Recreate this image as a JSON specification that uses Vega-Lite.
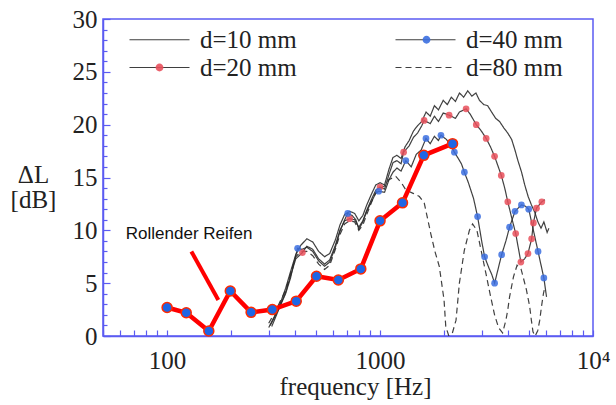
{
  "$schema": "https://vega.github.io/schema/vega-lite/v6.json",
  "width": 490,
  "height": 317,
  "autosize": {"type": "none"},
  "padding": {"left": 103, "top": 19, "right": 23, "bottom": 69},
  "background": "white",
  "config": {
    "view": {"stroke": "#5b5bf2", "strokeWidth": 1.5},
    "axis": {
      "domainColor": "#5b5bf2", "domainWidth": 1.5, "tickColor": "#5b5bf2", "tickWidth": 1.2,
      "labelFont": "Liberation Serif", "labelFontSize": 25, "labelColor": "#222",
      "titleFont": "Liberation Serif", "titleFontSize": 25, "titleFontWeight": "normal", "titleColor": "#222",
      "grid": false
    }
  },
  "resolve": {"axis": {"y": "independent"}},
  "datasets": {
    "curves": [
      {"s":"d=10 mm","f":300,"dB":0.8},{"s":"d=10 mm","f":318,"dB":1.8},{"s":"d=10 mm","f":340,"dB":3.1},{"s":"d=10 mm","f":360,"dB":4.5},{"s":"d=10 mm","f":380,"dB":6.1},{"s":"d=10 mm","f":402,"dB":7.7},{"s":"d=10 mm","f":425,"dB":8.6},{"s":"d=10 mm","f":453,"dB":9.2},{"s":"d=10 mm","f":483,"dB":8.9},{"s":"d=10 mm","f":515,"dB":8.0},{"s":"d=10 mm","f":549,"dB":7.5},{"s":"d=10 mm","f":580,"dB":7.8},{"s":"d=10 mm","f":617,"dB":9.1},{"s":"d=10 mm","f":648,"dB":10.5},{"s":"d=10 mm","f":682,"dB":11.5},{"s":"d=10 mm","f":720,"dB":11.8},{"s":"d=10 mm","f":760,"dB":11.6},{"s":"d=10 mm","f":795,"dB":10.9},{"s":"d=10 mm","f":830,"dB":11.4},{"s":"d=10 mm","f":866,"dB":12.4},{"s":"d=10 mm","f":910,"dB":13.4},{"s":"d=10 mm","f":955,"dB":14.3},{"s":"d=10 mm","f":1000,"dB":14.5},{"s":"d=10 mm","f":1050,"dB":14.3},{"s":"d=10 mm","f":1102,"dB":15.8},{"s":"d=10 mm","f":1150,"dB":16.9},{"s":"d=10 mm","f":1200,"dB":17.1},{"s":"d=10 mm","f":1255,"dB":16.8},{"s":"d=10 mm","f":1310,"dB":17.9},{"s":"d=10 mm","f":1370,"dB":18.5},{"s":"d=10 mm","f":1435,"dB":19.4},{"s":"d=10 mm","f":1500,"dB":19.9},{"s":"d=10 mm","f":1570,"dB":20.3},{"s":"d=10 mm","f":1645,"dB":21.2},{"s":"d=10 mm","f":1720,"dB":20.8},{"s":"d=10 mm","f":1800,"dB":21.8},{"s":"d=10 mm","f":1880,"dB":21.4},{"s":"d=10 mm","f":1980,"dB":22.3},{"s":"d=10 mm","f":2070,"dB":21.9},{"s":"d=10 mm","f":2160,"dB":22.6},{"s":"d=10 mm","f":2260,"dB":22.2},{"s":"d=10 mm","f":2360,"dB":23.0},{"s":"d=10 mm","f":2470,"dB":22.6},{"s":"d=10 mm","f":2580,"dB":23.2},{"s":"d=10 mm","f":2700,"dB":22.7},{"s":"d=10 mm","f":2820,"dB":23.0},{"s":"d=10 mm","f":2930,"dB":22.3},{"s":"d=10 mm","f":3070,"dB":21.9},{"s":"d=10 mm","f":3200,"dB":21.8},{"s":"d=10 mm","f":3340,"dB":21.2},{"s":"d=10 mm","f":3490,"dB":20.6},{"s":"d=10 mm","f":3640,"dB":20.3},{"s":"d=10 mm","f":3810,"dB":19.7},{"s":"d=10 mm","f":3980,"dB":19.2},{"s":"d=10 mm","f":4150,"dB":18.6},{"s":"d=10 mm","f":4300,"dB":17.6},{"s":"d=10 mm","f":4440,"dB":16.6},{"s":"d=10 mm","f":4620,"dB":15.5},{"s":"d=10 mm","f":4780,"dB":14.3},{"s":"d=10 mm","f":4960,"dB":13.2},{"s":"d=10 mm","f":5140,"dB":12.4},{"s":"d=10 mm","f":5330,"dB":11.7},{"s":"d=10 mm","f":5510,"dB":10.8},{"s":"d=10 mm","f":5700,"dB":10.2},{"s":"d=10 mm","f":5880,"dB":10.8},{"s":"d=10 mm","f":6090,"dB":9.8},{"s":"d=10 mm","f":6210,"dB":10.2},
      {"s":"d=20 mm","f":305,"dB":1.0},{"s":"d=20 mm","f":320,"dB":1.8},{"s":"d=20 mm","f":340,"dB":2.9},{"s":"d=20 mm","f":360,"dB":4.1},{"s":"d=20 mm","f":380,"dB":5.7},{"s":"d=20 mm","f":402,"dB":7.3},{"s":"d=20 mm","f":432,"dB":7.9},{"s":"d=20 mm","f":453,"dB":8.5},{"s":"d=20 mm","f":483,"dB":8.2},{"s":"d=20 mm","f":515,"dB":7.3},{"s":"d=20 mm","f":549,"dB":6.8},{"s":"d=20 mm","f":580,"dB":7.2},{"s":"d=20 mm","f":617,"dB":8.6},{"s":"d=20 mm","f":648,"dB":10.0},{"s":"d=20 mm","f":682,"dB":10.9},{"s":"d=20 mm","f":720,"dB":11.1},{"s":"d=20 mm","f":760,"dB":11.0},{"s":"d=20 mm","f":795,"dB":10.3},{"s":"d=20 mm","f":830,"dB":10.9},{"s":"d=20 mm","f":866,"dB":11.9},{"s":"d=20 mm","f":910,"dB":12.9},{"s":"d=20 mm","f":955,"dB":13.8},{"s":"d=20 mm","f":1000,"dB":14.1},{"s":"d=20 mm","f":1050,"dB":13.9},{"s":"d=20 mm","f":1102,"dB":15.3},{"s":"d=20 mm","f":1150,"dB":16.4},{"s":"d=20 mm","f":1200,"dB":16.6},{"s":"d=20 mm","f":1255,"dB":16.3},{"s":"d=20 mm","f":1290,"dB":17.4},{"s":"d=20 mm","f":1370,"dB":18.0},{"s":"d=20 mm","f":1435,"dB":18.8},{"s":"d=20 mm","f":1500,"dB":19.2},{"s":"d=20 mm","f":1570,"dB":19.9},{"s":"d=20 mm","f":1610,"dB":20.4},{"s":"d=20 mm","f":1720,"dB":20.1},{"s":"d=20 mm","f":1800,"dB":20.8},{"s":"d=20 mm","f":1880,"dB":20.3},{"s":"d=20 mm","f":1980,"dB":21.1},{"s":"d=20 mm","f":2110,"dB":20.9},{"s":"d=20 mm","f":2260,"dB":20.6},{"s":"d=20 mm","f":2360,"dB":21.2},{"s":"d=20 mm","f":2535,"dB":21.5},{"s":"d=20 mm","f":2650,"dB":21.0},{"s":"d=20 mm","f":2830,"dB":20.0},{"s":"d=20 mm","f":2990,"dB":19.4},{"s":"d=20 mm","f":3150,"dB":18.7},{"s":"d=20 mm","f":3300,"dB":17.9},{"s":"d=20 mm","f":3450,"dB":17.0},{"s":"d=20 mm","f":3710,"dB":15.2},{"s":"d=20 mm","f":3850,"dB":14.0},{"s":"d=20 mm","f":3980,"dB":12.7},{"s":"d=20 mm","f":4150,"dB":11.2},{"s":"d=20 mm","f":4335,"dB":9.7},{"s":"d=20 mm","f":4585,"dB":7.0},{"s":"d=20 mm","f":4770,"dB":7.3},{"s":"d=20 mm","f":4950,"dB":7.8},{"s":"d=20 mm","f":5150,"dB":9.2},{"s":"d=20 mm","f":5250,"dB":10.7},{"s":"d=20 mm","f":5430,"dB":12.1},{"s":"d=20 mm","f":5750,"dB":12.7},{"s":"d=20 mm","f":5950,"dB":12.9},
      {"s":"d=40 mm","f":310,"dB":0.9},{"s":"d=40 mm","f":325,"dB":1.9},{"s":"d=40 mm","f":342,"dB":3.0},{"s":"d=40 mm","f":360,"dB":4.0},{"s":"d=40 mm","f":380,"dB":5.5},{"s":"d=40 mm","f":395,"dB":7.0},{"s":"d=40 mm","f":410,"dB":8.3},{"s":"d=40 mm","f":430,"dB":8.2},{"s":"d=40 mm","f":453,"dB":8.4},{"s":"d=40 mm","f":483,"dB":8.0},{"s":"d=40 mm","f":515,"dB":7.1},{"s":"d=40 mm","f":549,"dB":6.6},{"s":"d=40 mm","f":580,"dB":7.0},{"s":"d=40 mm","f":617,"dB":8.4},{"s":"d=40 mm","f":648,"dB":9.9},{"s":"d=40 mm","f":682,"dB":11.0},{"s":"d=40 mm","f":705,"dB":11.6},{"s":"d=40 mm","f":740,"dB":11.4},{"s":"d=40 mm","f":770,"dB":11.0},{"s":"d=40 mm","f":795,"dB":10.1},{"s":"d=40 mm","f":830,"dB":10.8},{"s":"d=40 mm","f":866,"dB":11.8},{"s":"d=40 mm","f":910,"dB":12.7},{"s":"d=40 mm","f":955,"dB":13.5},{"s":"d=40 mm","f":985,"dB":13.7},{"s":"d=40 mm","f":1050,"dB":13.6},{"s":"d=40 mm","f":1102,"dB":14.8},{"s":"d=40 mm","f":1150,"dB":15.5},{"s":"d=40 mm","f":1200,"dB":15.9},{"s":"d=40 mm","f":1255,"dB":15.6},{"s":"d=40 mm","f":1321,"dB":16.6},{"s":"d=40 mm","f":1400,"dB":16.0},{"s":"d=40 mm","f":1480,"dB":17.2},{"s":"d=40 mm","f":1560,"dB":17.6},{"s":"d=40 mm","f":1643,"dB":18.7},{"s":"d=40 mm","f":1720,"dB":18.2},{"s":"d=40 mm","f":1800,"dB":18.9},{"s":"d=40 mm","f":1880,"dB":18.5},{"s":"d=40 mm","f":1932,"dB":19.0},{"s":"d=40 mm","f":2050,"dB":18.6},{"s":"d=40 mm","f":2150,"dB":18.0},{"s":"d=40 mm","f":2234,"dB":17.4},{"s":"d=40 mm","f":2330,"dB":16.8},{"s":"d=40 mm","f":2410,"dB":16.3},{"s":"d=40 mm","f":2489,"dB":15.5},{"s":"d=40 mm","f":2600,"dB":14.5},{"s":"d=40 mm","f":2750,"dB":13.0},{"s":"d=40 mm","f":2871,"dB":11.3},{"s":"d=40 mm","f":3000,"dB":9.0},{"s":"d=40 mm","f":3097,"dB":7.5},{"s":"d=40 mm","f":3250,"dB":6.4},{"s":"d=40 mm","f":3350,"dB":5.8},{"s":"d=40 mm","f":3451,"dB":5.0},{"s":"d=40 mm","f":3600,"dB":6.5},{"s":"d=40 mm","f":3724,"dB":7.7},{"s":"d=40 mm","f":3900,"dB":9.0},{"s":"d=40 mm","f":4057,"dB":10.3},{"s":"d=40 mm","f":4303,"dB":11.8},{"s":"d=40 mm","f":4612,"dB":12.4},{"s":"d=40 mm","f":4800,"dB":12.3},{"s":"d=40 mm","f":4990,"dB":12.0},{"s":"d=40 mm","f":5250,"dB":10.0},{"s":"d=40 mm","f":5520,"dB":8.0},{"s":"d=40 mm","f":5878,"dB":5.5},{"s":"d=40 mm","f":6050,"dB":3.7},
      {"s":"d=80 mm","f":300,"dB":1.2},{"s":"d=80 mm","f":320,"dB":2.2},{"s":"d=80 mm","f":340,"dB":3.3},{"s":"d=80 mm","f":360,"dB":4.3},{"s":"d=80 mm","f":380,"dB":5.9},{"s":"d=80 mm","f":402,"dB":7.5},{"s":"d=80 mm","f":425,"dB":8.0},{"s":"d=80 mm","f":453,"dB":8.0},{"s":"d=80 mm","f":483,"dB":7.6},{"s":"d=80 mm","f":515,"dB":6.8},{"s":"d=80 mm","f":549,"dB":6.3},{"s":"d=80 mm","f":580,"dB":6.7},{"s":"d=80 mm","f":617,"dB":8.2},{"s":"d=80 mm","f":648,"dB":9.6},{"s":"d=80 mm","f":682,"dB":10.6},{"s":"d=80 mm","f":720,"dB":10.9},{"s":"d=80 mm","f":760,"dB":10.8},{"s":"d=80 mm","f":795,"dB":10.0},{"s":"d=80 mm","f":830,"dB":10.5},{"s":"d=80 mm","f":866,"dB":11.5},{"s":"d=80 mm","f":910,"dB":12.6},{"s":"d=80 mm","f":955,"dB":13.6},{"s":"d=80 mm","f":1000,"dB":14.0},{"s":"d=80 mm","f":1050,"dB":14.2},{"s":"d=80 mm","f":1100,"dB":14.8},{"s":"d=80 mm","f":1186,"dB":15.1},{"s":"d=80 mm","f":1260,"dB":14.5},{"s":"d=80 mm","f":1324,"dB":13.8},{"s":"d=80 mm","f":1430,"dB":13.5},{"s":"d=80 mm","f":1530,"dB":13.2},{"s":"d=80 mm","f":1612,"dB":12.6},{"s":"d=80 mm","f":1730,"dB":9.7},{"s":"d=80 mm","f":1810,"dB":8.0},{"s":"d=80 mm","f":1897,"dB":6.6},{"s":"d=80 mm","f":1998,"dB":3.4},{"s":"d=80 mm","f":2035,"dB":0.9},{"s":"d=80 mm","f":2100,"dB":0.05},{"s":"d=80 mm","f":2180,"dB":0.2},{"s":"d=80 mm","f":2274,"dB":1.5},{"s":"d=80 mm","f":2358,"dB":5.0},{"s":"d=80 mm","f":2487,"dB":8.1},{"s":"d=80 mm","f":2628,"dB":10.0},{"s":"d=80 mm","f":2720,"dB":10.6},{"s":"d=80 mm","f":2850,"dB":10.0},{"s":"d=80 mm","f":2990,"dB":8.0},{"s":"d=80 mm","f":3150,"dB":5.8},{"s":"d=80 mm","f":3300,"dB":3.8},{"s":"d=80 mm","f":3450,"dB":2.0},{"s":"d=80 mm","f":3600,"dB":0.8},{"s":"d=80 mm","f":3763,"dB":0.3},{"s":"d=80 mm","f":3900,"dB":1.5},{"s":"d=80 mm","f":3981,"dB":2.5},{"s":"d=80 mm","f":4057,"dB":3.7},{"s":"d=80 mm","f":4231,"dB":5.6},{"s":"d=80 mm","f":4400,"dB":6.7},{"s":"d=80 mm","f":4600,"dB":6.3},{"s":"d=80 mm","f":4864,"dB":4.4},{"s":"d=80 mm","f":5042,"dB":2.8},{"s":"d=80 mm","f":5135,"dB":1.5},{"s":"d=80 mm","f":5226,"dB":0.4},{"s":"d=80 mm","f":5350,"dB":0.0},{"s":"d=80 mm","f":5500,"dB":0.5},{"s":"d=80 mm","f":5623,"dB":1.5},{"s":"d=80 mm","f":5730,"dB":2.8},{"s":"d=80 mm","f":5850,"dB":4.0},{"s":"d=80 mm","f":5950,"dB":4.7}
    ],
    "dots": [
      {"s":"d=20 mm","f":432,"dB":7.9},{"s":"d=20 mm","f":720,"dB":11.1},{"s":"d=20 mm","f":1000,"dB":14.1},{"s":"d=20 mm","f":1290,"dB":17.4},{"s":"d=20 mm","f":1610,"dB":20.4},{"s":"d=20 mm","f":2110,"dB":20.9},{"s":"d=20 mm","f":2535,"dB":21.5},{"s":"d=20 mm","f":2830,"dB":20.0},{"s":"d=20 mm","f":3150,"dB":18.7},{"s":"d=20 mm","f":3450,"dB":17.0},{"s":"d=20 mm","f":3710,"dB":15.2},{"s":"d=20 mm","f":3980,"dB":12.7},{"s":"d=20 mm","f":4335,"dB":9.7},{"s":"d=20 mm","f":4585,"dB":7.0},{"s":"d=20 mm","f":4950,"dB":7.8},{"s":"d=20 mm","f":5150,"dB":9.2},{"s":"d=20 mm","f":5250,"dB":10.7},{"s":"d=20 mm","f":5430,"dB":12.1},{"s":"d=20 mm","f":5750,"dB":12.7},
      {"s":"d=40 mm","f":410,"dB":8.3},{"s":"d=40 mm","f":705,"dB":11.6},{"s":"d=40 mm","f":985,"dB":13.7},{"s":"d=40 mm","f":1321,"dB":16.6},{"s":"d=40 mm","f":1643,"dB":18.7},{"s":"d=40 mm","f":1932,"dB":19.0},{"s":"d=40 mm","f":2234,"dB":17.4},{"s":"d=40 mm","f":2489,"dB":15.5},{"s":"d=40 mm","f":2871,"dB":11.3},{"s":"d=40 mm","f":3097,"dB":7.5},{"s":"d=40 mm","f":3451,"dB":5.0},{"s":"d=40 mm","f":3724,"dB":7.7},{"s":"d=40 mm","f":4057,"dB":10.3},{"s":"d=40 mm","f":4303,"dB":11.8},{"s":"d=40 mm","f":4612,"dB":12.4},{"s":"d=40 mm","f":4990,"dB":12.0},{"s":"d=40 mm","f":5520,"dB":8.0},{"s":"d=40 mm","f":5878,"dB":5.5}
    ],
    "tire": [
      {"f":100,"dB":2.7},{"f":123,"dB":2.2},{"f":157,"dB":0.47},{"f":198,"dB":4.26},{"f":248,"dB":2.24},{"f":312,"dB":2.5},{"f":404,"dB":3.3},{"f":503,"dB":5.65},{"f":637,"dB":5.3},{"f":812,"dB":6.35},{"f":1000,"dB":10.9},{"f":1275,"dB":12.6},{"f":1605,"dB":17.1},{"f":2190,"dB":18.2}
    ],
    "note": [
      {"label":"Rollender Reifen","f":64,"dB":9.65,"f2":130,"dB2":8.0,"f3":174,"dB3":3.4}
    ]
  },
  "layer": [
    {
      "data": {"name": "curves"},
      "mark": {"type": "line", "color": "#2b2b2b", "strokeWidth": 1.2, "opacity": 0.9, "clip": true},
      "encoding": {
        "x": {"field": "f", "type": "quantitative",
          "scale": {"type": "log", "domain": [50, 10000], "nice": false},
          "axis": {
            "values": [50,60,70,80,90,100,200,300,400,500,600,700,800,900,1000,2000,3000,4000,5000,6000,7000,8000,9000,10000],
            "labelExpr": "datum.value == 100 ? '100' : datum.value == 1000 ? '1000' : datum.value == 10000 ? '10⁴' : ''",
            "tickSize": -6,
            "labelPadding": 18, "labelOverlap": false, "labelFlush": false, "labelBound": false,
            "title": "frequency [Hz]", "titleX": 252, "titleY": 58, "titleBaseline": "alphabetic", "titleAnchor": "middle"
          }
        },
        "y": {"field": "dB", "type": "quantitative",
          "scale": {"domain": [0, 30], "nice": false},
          "axis": {
            "orient": "left",
            "values": [0,5,10,15,20,25,30],
            "tickSize": -7,
            "labelPadding": 13, "labelOverlap": false, "labelFlush": false, "labelBound": false,
            "title": ["ΔL", "[dB]"], "titleAngle": 0, "titleX": -70, "titleY": 143,
            "titleAlign": "center", "titleBaseline": "top", "titleLineHeight": 25
          }
        },
        "strokeDash": {"field": "s", "type": "nominal",
          "scale": {"domain": ["d=10 mm", "d=20 mm", "d=40 mm", "d=80 mm"], "range": [[1,0],[1,0],[1,0],[6,4]]},
          "legend": {
            "orient": "none", "legendX": 44, "legendY": 8, "columns": 2, "title": null,
            "symbolType": "M-10,0H10", "symbolSize": 36, "symbolStrokeColor": "#2b2b2b", "symbolStrokeWidth": 1.2,
            "labelFont": "Liberation Serif", "labelFontSize": 25, "labelColor": "#222", "labelOffset": 28, "labelLimit": 0,
            "columnPadding": 96, "rowPadding": 2
          }
        }
      }
    },
    {
      "data": {"name": "dots"},
      "mark": {"type": "point", "filled": true, "size": 45, "opacity": 0.85},
      "encoding": {
        "x": {"field": "f", "type": "quantitative"},
        "y": {"field": "dB", "type": "quantitative",
          "axis": {"orient": "left", "values": [1,2,3,4,6,7,8,9,11,12,13,14,16,17,18,19,21,22,23,24,26,27,28,29], "tickSize": -4, "labels": false, "domain": false, "title": null}
        },
        "color": {"field": "s", "type": "nominal",
          "scale": {"domain": ["d=10 mm", "d=20 mm", "d=40 mm", "d=80 mm "], "range": ["transparent", "#e9505c", "#3b6fe0", "transparent"]},
          "legend": {
            "orient": "none", "legendX": 44, "legendY": 8, "columns": 2, "title": null,
            "symbolType": "M-1.3,0A1.3,1.3,0,1,1,1.3,0A1.3,1.3,0,1,1,-1.3,0Z", "symbolSize": 36, "symbolStrokeWidth": 0, "symbolOpacity": 0.9,
            "labelFont": "Liberation Serif", "labelFontSize": 25, "labelExpr": "''", "labelOffset": 28, "labelLimit": 0,
            "columnPadding": 214, "rowPadding": 2
          }
        }
      }
    },
    {
      "data": {"name": "tire"},
      "mark": {"type": "line", "color": "#ff0000", "strokeWidth": 4.5},
      "encoding": {
        "x": {"field": "f", "type": "quantitative"},
        "y": {"field": "dB", "type": "quantitative", "axis": null}
      }
    },
    {
      "data": {"name": "tire"},
      "mark": {"type": "point", "filled": true, "size": 100, "fill": "#1f66e5", "stroke": "#ff2a00", "strokeWidth": 1.5, "opacity": 1},
      "encoding": {
        "x": {"field": "f", "type": "quantitative"},
        "y": {"field": "dB", "type": "quantitative", "axis": null}
      }
    },
    {
      "data": {"name": "note"},
      "mark": {"type": "rule", "color": "#ff0000", "strokeWidth": 4},
      "encoding": {
        "x": {"field": "f2", "type": "quantitative"},
        "y": {"field": "dB2", "type": "quantitative", "axis": null},
        "x2": {"field": "f3"},
        "y2": {"field": "dB3"}
      }
    },
    {
      "data": {"name": "note"},
      "mark": {"type": "text", "align": "left", "baseline": "middle", "font": "Liberation Sans", "fontSize": 17, "color": "#111"},
      "encoding": {
        "x": {"field": "f", "type": "quantitative"},
        "y": {"field": "dB", "type": "quantitative", "axis": null},
        "text": {"field": "label"}
      }
    }
  ]
}
